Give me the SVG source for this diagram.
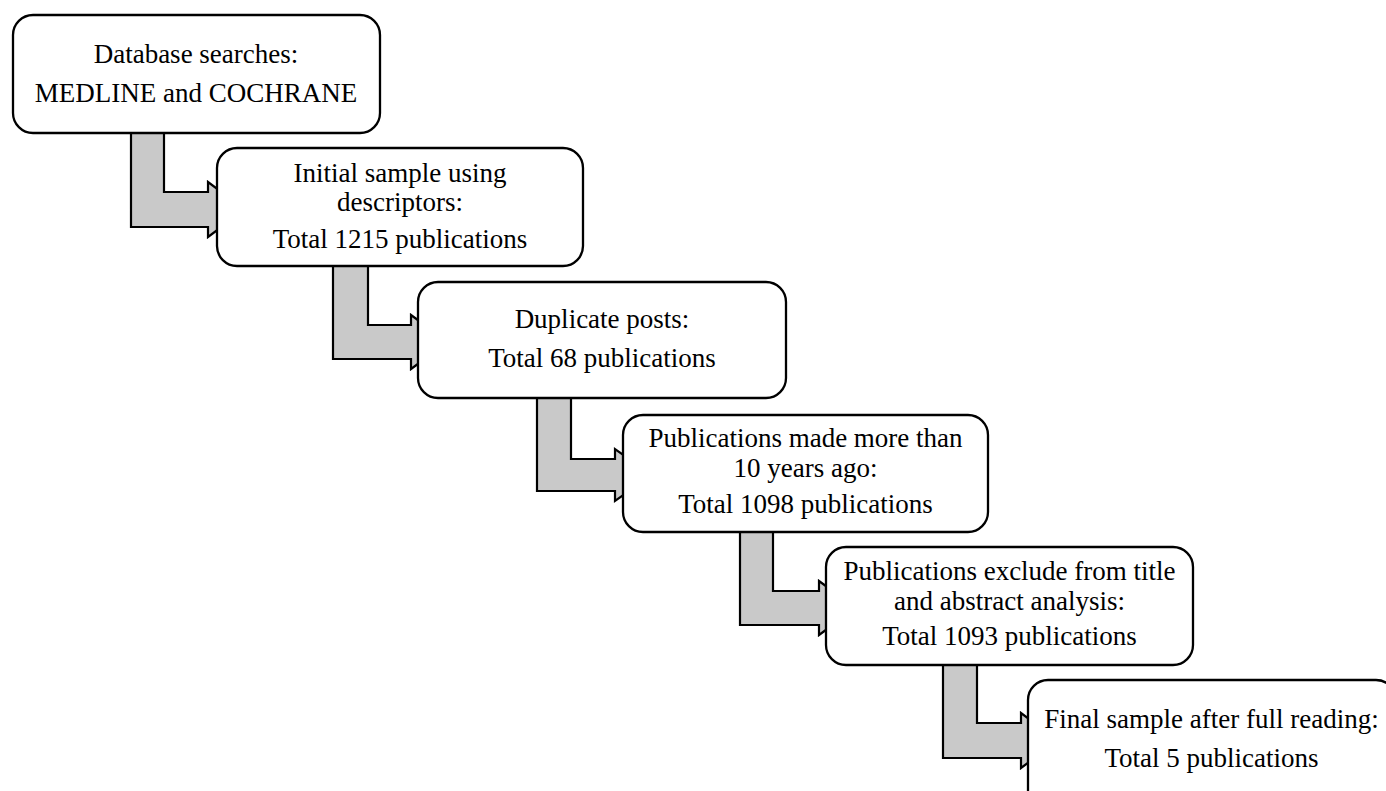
<svg xmlns="http://www.w3.org/2000/svg" width="1386" height="791" viewBox="0 0 1386 791">
<style>
.box{fill:#fff;stroke:#000;stroke-width:2.3}
.arr{fill:#c9c9c9;stroke:#000;stroke-width:2.2;stroke-linejoin:miter}
text{font-family:"Liberation Serif","Times New Roman",serif;font-size:27px;fill:#000;text-anchor:middle}
</style>
<rect width="1386" height="791" fill="#fff"/>
<g id="connectors">
<path class="arr" d="M131,128 V227 H208 V237 L245,209.5 L208,182 V192 H164 V128 Z"/>
<path class="arr" d="M333,262 V359 H411 V369 L448,342 L411,315 V325 H368 V262 Z"/>
<path class="arr" d="M537,394 V491 H615 V501 L652,475 L615,449 V459 H571 V394 Z"/>
<path class="arr" d="M740,528 V625 H819 V635 L856,608 L819,581 V591 H773 V528 Z"/>
<path class="arr" d="M943,661 V758 H1021 V768 L1058,740.5 L1021,713 V723 H977 V661 Z"/>
</g>
<g id="n1">
<rect class="box" x="13" y="15" width="367" height="118" rx="20"/>
<text x="196" y="63">Database searches:</text>
<text x="196" y="102">MEDLINE and COCHRANE</text>
</g>
<g id="n2">
<rect class="box" x="217" y="148" width="366" height="118" rx="20"/>
<text x="400" y="182">Initial sample using</text>
<text x="400" y="211">descriptors:</text>
<text x="400" y="248">Total 1215 publications</text>
</g>
<g id="n3">
<rect class="box" x="418" y="282" width="368" height="116" rx="20"/>
<text x="602" y="328">Duplicate posts:</text>
<text x="602" y="367">Total 68 publications</text>
</g>
<g id="n4">
<rect class="box" x="623" y="415" width="365" height="117" rx="20"/>
<text x="805.5" y="447">Publications made more than</text>
<text x="805.5" y="477">10 years ago:</text>
<text x="805.5" y="513">Total 1098 publications</text>
</g>
<g id="n5">
<rect class="box" x="826" y="547" width="367" height="118" rx="20"/>
<text x="1009.5" y="580">Publications exclude from title</text>
<text x="1009.5" y="610">and abstract analysis:</text>
<text x="1009.5" y="645">Total 1093 publications</text>
</g>
<g id="n6">
<rect class="box" x="1028" y="680" width="368" height="130" rx="20"/>
<text x="1211.5" y="728">Final sample after full reading:</text>
<text x="1211.5" y="767">Total 5 publications</text>
</g>
</svg>
